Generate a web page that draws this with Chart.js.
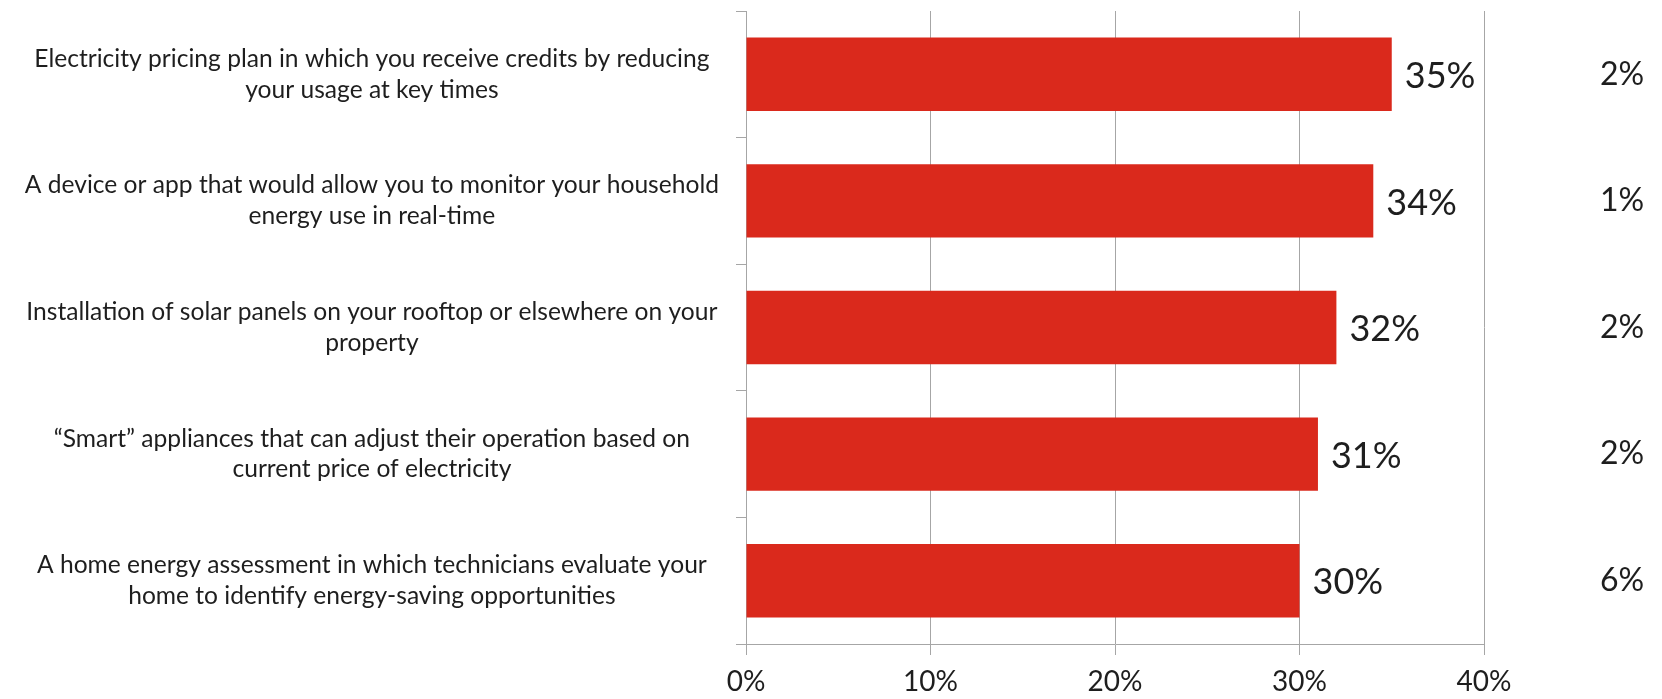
<!DOCTYPE html>
<html>
<head>
<meta charset="utf-8">
<script src="https://cdn.jsdelivr.net/npm/chart.js@4"></script>
<style>
  html, body { margin: 0; padding: 0; background: #fff; }
  #wrap { width: 1662px; height: 699px; }
</style>
</head>
<body>
<div id="wrap"><canvas id="programChart"></canvas></div>
<script>
const programs = [
    ["Electricity pricing plan in which you receive credits by reducing", "your usage at key times"],
    ["A device or app that would allow you to monitor your household", "energy use in real-time"],
    ["Installation of solar panels on your rooftop or elsewhere on your", "property"],
    ["\u201cSmart\u201d appliances that can adjust their operation based on", "current price of electricity"],
    ["A home energy assessment in which technicians evaluate your", "home to identify energy-saving opportunities"]
];
const interested = [35, 34, 32, 31, 30];
const sideColumn = [2, 1, 2, 2, 6];
const xTicks = [0, 10, 20, 30, 40];

const gridGray = "#a6a6a6";
const textColor = "#1e1e1e";

// percent next to each bar, plus the second column on the far right
const valueLabels = {
    id: "valueLabels",
    afterDatasetsDraw(chart) {
        const ctx = chart.ctx;
        const yScale = chart.scales.y;
        const meta = chart.getDatasetMeta(0);
        ctx.save();
        ctx.fillStyle = textColor;
        ctx.textBaseline = "middle";
        ctx.textAlign = "left";
        ctx.font = "36px Lato";
        meta.data.forEach((bar, i) => {
            ctx.fillText(interested[i] + "%", bar.x + 13, bar.y + 2);
        });
        ctx.textAlign = "center";
        ctx.font = "32px Lato";
        sideColumn.forEach((v, i) => {
            ctx.fillText(v + "%", chart.chartArea.right + 138, yScale.getPixelForValue(i));
        });
        ctx.restore();
    }
};

new Chart(document.getElementById("programChart"), {
    type: "bar",
    data: {
        labels: programs,
        datasets: [{data: interested, backgroundColor: "#da291c", barPercentage: 0.58, categoryPercentage: 1}]
    },
    options: {
        indexAxis: "y",
        responsive: true,
        maintainAspectRatio: false,
        animation: false,
        layout: {padding: {top: 11, right: 178, left: 0, bottom: 0}},
        plugins: {legend: {display: false}, tooltip: {enabled: false}},
        scales: {
            x: {
                min: 0, max: 40,
                afterBuildTicks: s => { s.ticks = xTicks.map(v => ({value: v})); },
                afterFit: s => { s.height = 55; },
                grid: {color: gridGray, tickLength: 11, lineWidth: 1},
                border: {color: gridGray},
                ticks: {
                    padding: 10,
                    color: textColor,
                    font: {family: "Lato", size: 28},
                    callback: v => v + "%"
                }
            },
            y: {
                // labels sit mid-band, so they never need extra room above/below
                afterFit: s => { s.width = 746; s.paddingTop = 0; s.paddingBottom = 0; },
                grid: {drawOnChartArea: false, color: gridGray, tickLength: 10, offset: true},
                border: {color: gridGray},
                ticks: {
                    padding: 17,
                    crossAlign: "center",
                    color: textColor,
                    font: {family: "Lato", size: 24.6, lineHeight: 1.25}
                }
            }
        }
    },
    plugins: [valueLabels]
});
</script>
</body>
</html>
